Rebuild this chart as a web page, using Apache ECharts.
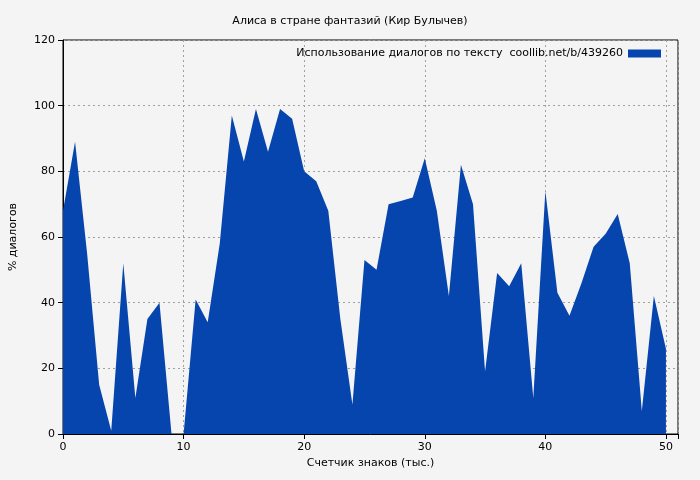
<!DOCTYPE html>
<html>
<head>
<meta charset="utf-8">
<script src="https://cdn.jsdelivr.net/npm/echarts@6/dist/echarts.min.js"></script>
<style>html,body{margin:0;background:#f4f4f4;}#chart{width:700px;height:480px;}</style>
</head>
<body>
<div id="chart"></div>
<script>
var xValues = [0,1,2,3,4,5,6,7,8,9,10,11,12,13,14,15,16,17,18,19,20,21,22,23,24,25,26,27,28,29,30,31,32,33,34,35,36,37,38,39,40,41,42,43,44,45,46,47,48,49,50];
var dialogShare = [68,89,55,15,1,52,11,35,40,0,0,41,34,58,97,83,99,86,99,96,80,77,68,35,9,53,50,70,71,72,84,68,42,82,70,19,49,45,52,11,74,43,36,46,57,61,67,52,7,42,26];
var seriesName = 'Использование диалогов по тексту  coollib.net/b/439260';

var font = 'DejaVu Sans';
var myChart = echarts.init(document.getElementById('chart'));
var option = {
    backgroundColor: '#f4f4f4',
    textStyle: { fontFamily: font },
    title: {
        text: 'Алиса в стране фантазий (Кир Булычев)',
        left: 'center',
        top: 11,
        textStyle: { fontSize: 11, fontWeight: 'normal', color: '#000', fontFamily: font }
    },
    legend: {
        right: 34,
        top: 43,
        align: 'right',
        itemWidth: 33,
        itemHeight: 8,
        icon: 'rect',
        textStyle: { fontSize: 11, color: '#000', fontFamily: font },
        data: [seriesName]
    },
    grid: { left: 62, right: 22, top: 40, bottom: 46, show: true, borderColor: '#000', borderWidth: 1 },
    xAxis: {
        type: 'value',
        min: 0,
        max: 51,
        interval: 10,
        name: 'Счетчик знаков (тыс.)',
        nameLocation: 'middle',
        nameGap: 22,
        nameTextStyle: { fontSize: 11, color: '#000' },
        axisLine: { lineStyle: { color: '#000' } },
        axisTick: { inside: false, lineStyle: { color: '#000' } },
        axisLabel: { fontSize: 11, color: '#000', formatter: function (v) { return v > 50 ? '' : v; } },
        splitLine: { show: true, lineStyle: { color: '#a0a0a0', type: [2, 3] } }
    },
    yAxis: {
        type: 'value',
        min: 0,
        max: 120,
        interval: 20,
        name: '% диалогов',
        nameLocation: 'middle',
        nameGap: 44,
        nameTextStyle: { fontSize: 11, color: '#000' },
        axisLine: { show: true, lineStyle: { color: '#000' } },
        axisTick: { show: true, lineStyle: { color: '#000' } },
        axisLabel: { fontSize: 11, color: '#000' },
        splitLine: { show: true, lineStyle: { color: '#a0a0a0', type: [2, 3] } }
    },
    series: [{
        name: seriesName,
        type: 'line',
        data: xValues.map(function (x, i) { return [x, dialogShare[i]]; }),
        showSymbol: false,
        color: '#0645ad',
        lineStyle: { width: 0 },
        areaStyle: { color: '#0645ad', opacity: 1 },
        animation: false
    }]
};
myChart.setOption(option);
</script>
</body>
</html>
